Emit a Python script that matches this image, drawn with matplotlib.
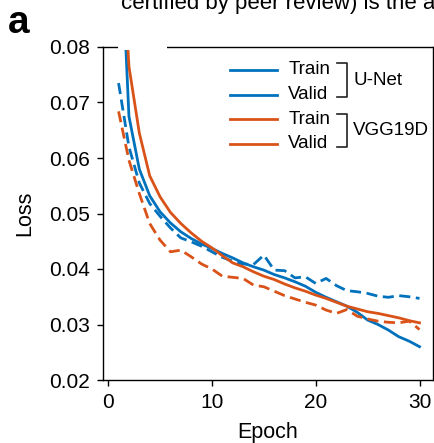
import numpy as np
import matplotlib
matplotlib.use("Agg")
import matplotlib.pyplot as plt
from matplotlib.patches import Rectangle

plt.rcParams['font.family'] = ['Liberation Sans', 'DejaVu Sans']

epochs = np.arange(1, 31)

unet_train = [0.109, 0.0675, 0.0580, 0.0532, 0.0503, 0.0483, 0.0467, 0.0455, 0.0445, 0.0437,
              0.0428, 0.0420, 0.0411, 0.0404, 0.0398, 0.0390, 0.0384, 0.0377, 0.0369, 0.0358,
              0.0349, 0.0341, 0.0333, 0.0322, 0.0308, 0.0300, 0.0290, 0.0278, 0.0270, 0.0260]
unet_valid = [0.0735, 0.0620, 0.0555, 0.0518, 0.0495, 0.0474, 0.0456, 0.0449, 0.0441, 0.0431,
              0.0421, 0.0414, 0.0409, 0.0408, 0.0425, 0.0398, 0.0397, 0.0384, 0.0386, 0.0374,
              0.0383, 0.0370, 0.0361, 0.0359, 0.0356, 0.0351, 0.0349, 0.0352, 0.0350, 0.0347]
vgg_train = [0.110, 0.0765, 0.0645, 0.0568, 0.0530, 0.0502, 0.0482, 0.0465, 0.0450, 0.0438,
             0.0424, 0.0411, 0.0404, 0.0395, 0.0387, 0.0381, 0.0373, 0.0366, 0.0360, 0.0353,
             0.0347, 0.0340, 0.0333, 0.0328, 0.0323, 0.0320, 0.0316, 0.0312, 0.0307, 0.0303]
vgg_valid = [0.0684, 0.0596, 0.0536, 0.0482, 0.0452, 0.0431, 0.0434, 0.0422, 0.0409, 0.0400,
             0.0387, 0.0385, 0.0383, 0.0371, 0.0368, 0.0360, 0.0352, 0.0346, 0.0340, 0.0335,
             0.0326, 0.0320, 0.0327, 0.0315, 0.0310, 0.0306, 0.0304, 0.0303, 0.0306, 0.0291]

BLUE = "#0072BD"
ORANGE = "#D95319"

W, H = 435, 443
fig = plt.figure(figsize=(W / 100, H / 100), dpi=100)
ax = fig.add_axes([103 / W, 1 - 380 / H, 330 / W, 333 / H])

lw = 2.0
ax.plot(epochs, unet_train, color=BLUE, lw=lw)
ax.plot(epochs, unet_valid, color=BLUE, lw=lw, dashes=(4, 2))
ax.plot(epochs, vgg_train, color=ORANGE, lw=lw)
ax.plot(epochs, vgg_valid, color=ORANGE, lw=lw, dashes=(4, 2))

ax.set_xlim(-0.5, 31.3)
ax.set_ylim(0.02, 0.08)
ax.set_xticks([0, 10, 20, 30])
ax.set_yticks([0.02, 0.03, 0.04, 0.05, 0.06, 0.07, 0.08])
ax.set_yticklabels(["0.02", "0.03", "0.04", "0.05", "0.06", "0.07", "0.08"])
ax.tick_params(direction="out", length=4.5, width=1.0, labelsize=15, colors="black")
ax.tick_params(axis="y", pad=5)
ax.tick_params(axis="x", pad=5)
for sp in ax.spines.values():
    sp.set_linewidth(1.0)
ax.set_xlabel("Epoch", fontsize=15.5, labelpad=7)
ax.set_ylabel("Loss", fontsize=15.5, labelpad=10)

# legend drawn by hand: solid lines, labels and brackets
rows = [(0.931, BLUE, "Train"), (0.856, BLUE, "Valid"),
        (0.783, ORANGE, "Train"), (0.709, ORANGE, "Valid")]
for y, c, lab in rows:
    ax.plot([0.385, 0.527], [y, y], color=c, lw=lw, transform=ax.transAxes, clip_on=False)
    ax.text(0.561, y, lab, transform=ax.transAxes, fontsize=13.5, va="center", ha="left")

groups = [(0.952, 0.849, "U-Net"), (0.799, 0.699, "VGG19D")]
for y0, y1, name in groups:
    ax.plot([0.709, 0.738, 0.738, 0.709], [y0, y0, y1, y1], color="#222222", lw=1.2,
            transform=ax.transAxes, clip_on=False)
    ax.text(0.758, (y0 + y1) / 2, name, transform=ax.transAxes, fontsize=13.5,
            va="center", ha="left")

# white gap in the top border
fig.patches.append(Rectangle((118 / W, 1 - 50 / H), 49 / W, 6 / H, transform=fig.transFigure,
                             facecolor="white", edgecolor="none", zorder=5))

fig.text(8 / W, 1 - 33 / H, "a", fontsize=28, fontweight="bold", ha="left", va="baseline")
fig.text(121 / W, 1 - 9 / H, "certified by peer review) is the author",
         fontsize=16, ha="left", va="baseline")

fig.savefig("out.png", dpi=100)
